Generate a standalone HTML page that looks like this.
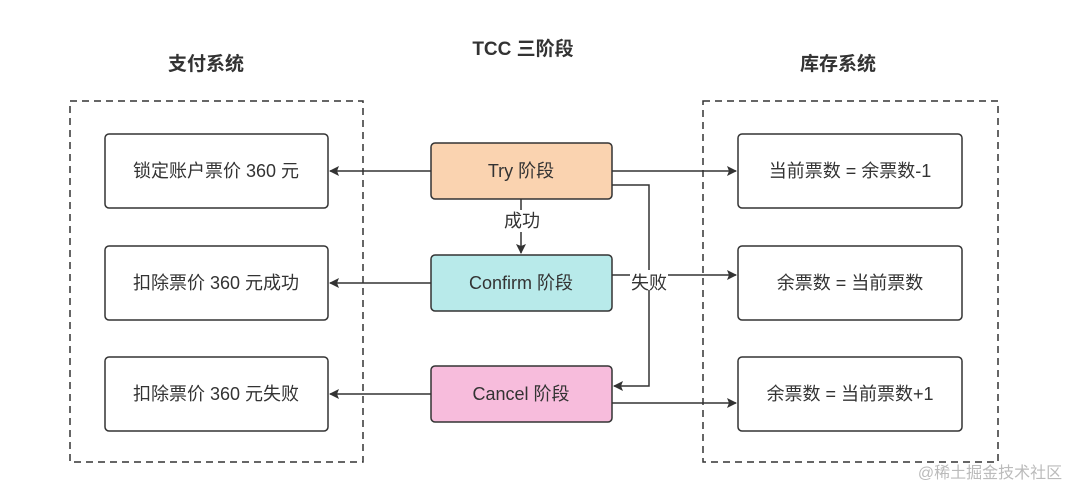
<!DOCTYPE html>
<html><head><meta charset="utf-8"><style>
html,body{margin:0;padding:0;background:#fff;}
svg text{font-family:"Liberation Sans","Noto Sans CJK SC",sans-serif;fill:#333;}
</style></head><body>
<svg width="1080" height="490" viewBox="0 0 1080 490" xmlns="http://www.w3.org/2000/svg">
<defs><marker id="a" markerWidth="10" markerHeight="10" refX="9" refY="5" orient="auto" markerUnits="userSpaceOnUse"><path d="M0,0 L10,5 L0,10 L2,5 z" fill="#333"/></marker></defs>
<g font-size="19" font-weight="bold" text-anchor="middle">
<text x="206" y="70">支付系统</text>
<text x="523" y="55">TCC 三阶段</text>
<text x="838" y="70">库存系统</text>
</g>
<g fill="none" stroke="#333" stroke-width="1.5" stroke-dasharray="7,5">
<rect x="70" y="101" width="293" height="361"/>
<rect x="703" y="101" width="295" height="361"/>
</g>
<g stroke="#333" stroke-width="1.5" fill="#fff">
<rect x="105" y="134" width="223" height="74" rx="4"/>
<rect x="105" y="246" width="223" height="74" rx="4"/>
<rect x="105" y="357" width="223" height="74" rx="4"/>
<rect x="738" y="134" width="224" height="74" rx="4"/>
<rect x="738" y="246" width="224" height="74" rx="4"/>
<rect x="738" y="357" width="224" height="74" rx="4"/>
<rect x="431" y="143" width="181" height="56" rx="4" fill="#fad3b0"/>
<rect x="431" y="255" width="181" height="56" rx="4" fill="#b8eaea"/>
<rect x="431" y="366" width="181" height="56" rx="4" fill="#f7bcdc"/>
</g>
<g stroke="#333" stroke-width="1.5" fill="none" marker-end="url(#a)">
<line x1="431" y1="171" x2="330" y2="171"/>
<line x1="431" y1="283" x2="330" y2="283"/>
<line x1="431" y1="394" x2="330" y2="394"/>
<line x1="612" y1="171" x2="736" y2="171"/>
<line x1="612" y1="275" x2="736" y2="275"/>
<line x1="612" y1="403" x2="736" y2="403"/>
<line x1="521" y1="199" x2="521" y2="253"/>
<polyline points="612,185 649,185 649,386 614,386"/>
</g>
<rect x="502" y="210" width="40" height="22" fill="#fff"/>
<rect x="630" y="270" width="38" height="20" fill="#fff"/>
<g font-size="18" text-anchor="middle">
<text x="216" y="177">锁定账户票价 360 元</text>
<text x="216" y="289">扣除票价 360 元成功</text>
<text x="216" y="400">扣除票价 360 元失败</text>
<text x="850" y="177">当前票数 = 余票数-1</text>
<text x="850" y="289">余票数 = 当前票数</text>
<text x="850" y="400">余票数 = 当前票数+1</text>
<text x="521" y="177">Try 阶段</text>
<text x="521" y="289">Confirm 阶段</text>
<text x="521" y="400">Cancel 阶段</text>
<text x="522" y="227">成功</text>
<text x="649" y="289">失败</text>
</g>
<text x="990" y="478" font-size="16" text-anchor="middle" style="fill:#bbb">@稀土掘金技术社区</text>
</svg>
</body></html>
